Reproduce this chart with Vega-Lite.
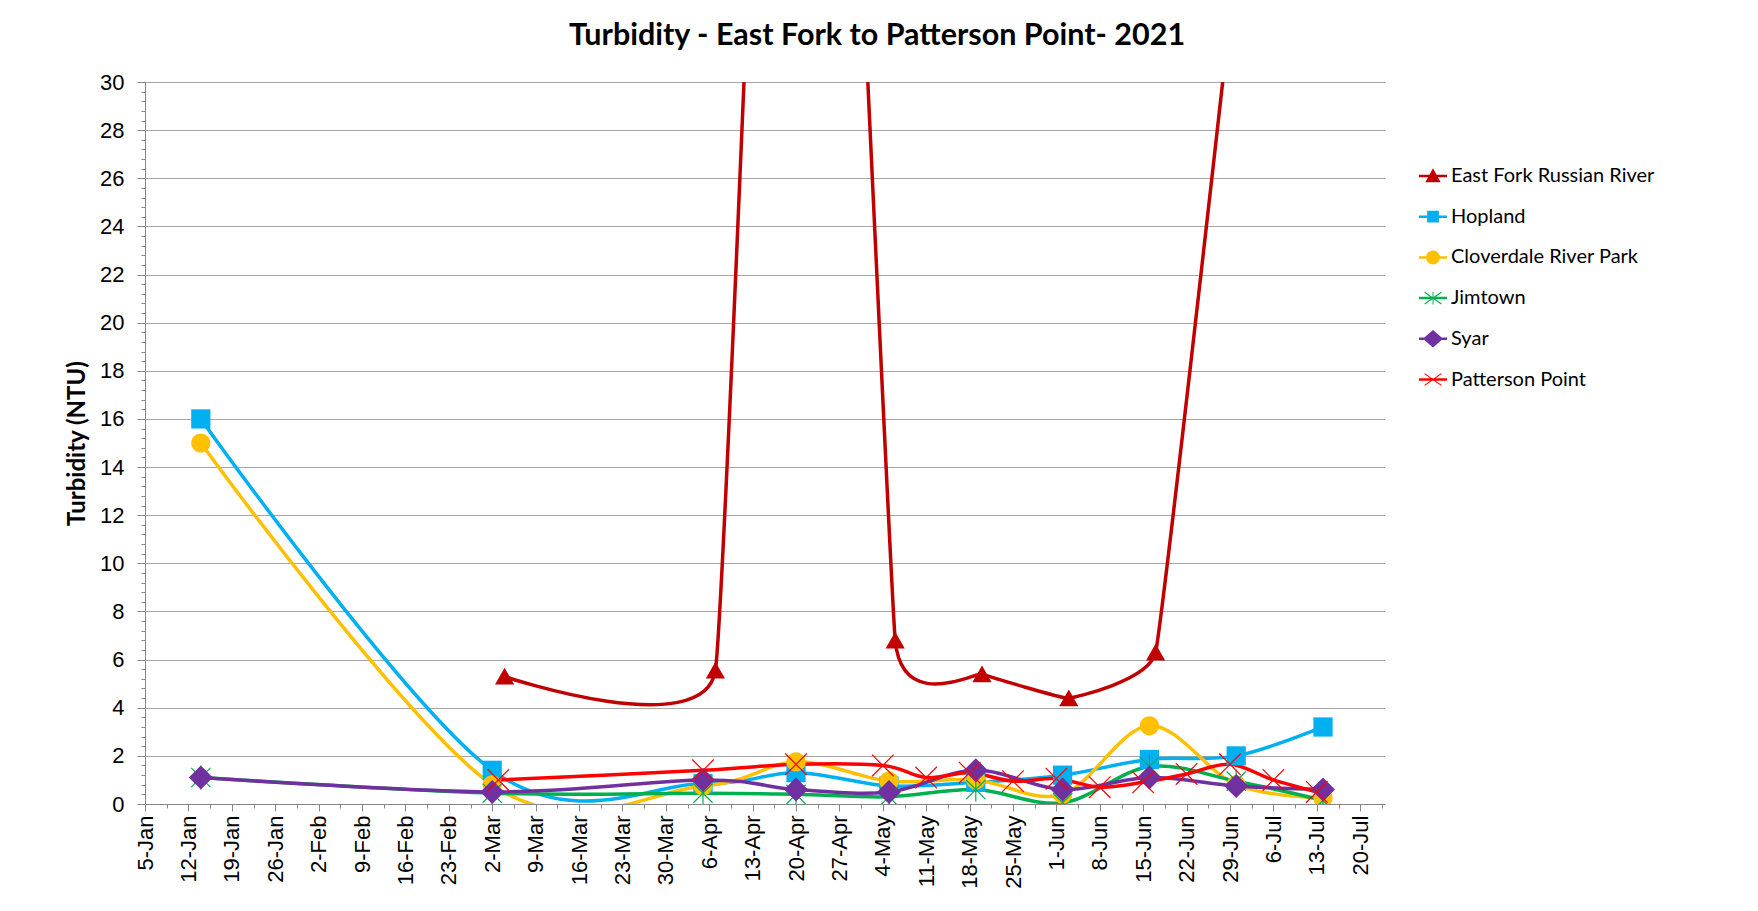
{
  "$schema": "https://vega.github.io/schema/vega-lite/v6.json",
  "width": 1240,
  "height": 722,
  "autosize": {"type": "none"},
  "padding": {"left": 145, "top": 82, "right": 373, "bottom": 107},
  "background": "white",
  "config": {"view": {"stroke": null}, "font": "Lato"},
  "title": {
    "text": "Turbidity - East Fork to Patterson Point- 2021",
    "font": "Lato",
    "fontSize": 30.5,
    "fontWeight": "bold",
    "color": "black",
    "anchor": "middle",
    "frame": "group",
    "dx": 112,
    "offset": 20
  },
  "data": {
    "values": [
      {"site": "East Fork Russian River", "date": "2021-03-04", "ntu": 5.3},
      {"site": "East Fork Russian River", "date": "2021-04-07", "ntu": 5.55},
      {"site": "East Fork Russian River", "date": "2021-04-21", "ntu": 85},
      {"site": "East Fork Russian River", "date": "2021-05-06", "ntu": 6.8},
      {"site": "East Fork Russian River", "date": "2021-05-20", "ntu": 5.4},
      {"site": "East Fork Russian River", "date": "2021-06-03", "ntu": 4.4},
      {"site": "East Fork Russian River", "date": "2021-06-17", "ntu": 6.3},
      {"site": "East Fork Russian River", "date": "2021-06-30", "ntu": 35},
      {"site": "Hopland", "date": "2021-01-14", "ntu": 16.0},
      {"site": "Hopland", "date": "2021-03-02", "ntu": 1.4},
      {"site": "Hopland", "date": "2021-04-05", "ntu": 0.85},
      {"site": "Hopland", "date": "2021-04-20", "ntu": 1.3},
      {"site": "Hopland", "date": "2021-05-05", "ntu": 0.75},
      {"site": "Hopland", "date": "2021-05-19", "ntu": 0.9},
      {"site": "Hopland", "date": "2021-06-02", "ntu": 1.2},
      {"site": "Hopland", "date": "2021-06-16", "ntu": 1.85},
      {"site": "Hopland", "date": "2021-06-30", "ntu": 2.0},
      {"site": "Hopland", "date": "2021-07-14", "ntu": 3.2},
      {"site": "Cloverdale River Park", "date": "2021-01-14", "ntu": 15.0},
      {"site": "Cloverdale River Park", "date": "2021-03-02", "ntu": 0.8},
      {"site": "Cloverdale River Park", "date": "2021-04-05", "ntu": 0.75},
      {"site": "Cloverdale River Park", "date": "2021-04-20", "ntu": 1.75},
      {"site": "Cloverdale River Park", "date": "2021-05-05", "ntu": 0.95},
      {"site": "Cloverdale River Park", "date": "2021-05-19", "ntu": 1.0},
      {"site": "Cloverdale River Park", "date": "2021-06-02", "ntu": 0.4},
      {"site": "Cloverdale River Park", "date": "2021-06-16", "ntu": 3.25},
      {"site": "Cloverdale River Park", "date": "2021-06-30", "ntu": 0.8},
      {"site": "Cloverdale River Park", "date": "2021-07-14", "ntu": 0.25},
      {"site": "Jimtown", "date": "2021-01-14", "ntu": 1.1},
      {"site": "Jimtown", "date": "2021-03-02", "ntu": 0.45},
      {"site": "Jimtown", "date": "2021-04-05", "ntu": 0.45},
      {"site": "Jimtown", "date": "2021-04-20", "ntu": 0.4},
      {"site": "Jimtown", "date": "2021-05-05", "ntu": 0.3},
      {"site": "Jimtown", "date": "2021-05-19", "ntu": 0.6},
      {"site": "Jimtown", "date": "2021-06-02", "ntu": 0.05},
      {"site": "Jimtown", "date": "2021-06-16", "ntu": 1.55},
      {"site": "Jimtown", "date": "2021-06-30", "ntu": 0.95},
      {"site": "Jimtown", "date": "2021-07-14", "ntu": 0.15},
      {"site": "Syar", "date": "2021-01-14", "ntu": 1.1},
      {"site": "Syar", "date": "2021-03-02", "ntu": 0.5},
      {"site": "Syar", "date": "2021-04-05", "ntu": 1.0},
      {"site": "Syar", "date": "2021-04-20", "ntu": 0.6},
      {"site": "Syar", "date": "2021-05-05", "ntu": 0.5},
      {"site": "Syar", "date": "2021-05-19", "ntu": 1.4},
      {"site": "Syar", "date": "2021-06-02", "ntu": 0.6},
      {"site": "Syar", "date": "2021-06-16", "ntu": 1.1},
      {"site": "Syar", "date": "2021-06-30", "ntu": 0.75},
      {"site": "Syar", "date": "2021-07-14", "ntu": 0.6},
      {"site": "Patterson Point", "date": "2021-03-03", "ntu": 1.0},
      {"site": "Patterson Point", "date": "2021-04-05", "ntu": 1.4},
      {"site": "Patterson Point", "date": "2021-04-20", "ntu": 1.65},
      {"site": "Patterson Point", "date": "2021-05-04", "ntu": 1.6},
      {"site": "Patterson Point", "date": "2021-05-11", "ntu": 1.1},
      {"site": "Patterson Point", "date": "2021-05-18", "ntu": 1.3},
      {"site": "Patterson Point", "date": "2021-05-25", "ntu": 0.95},
      {"site": "Patterson Point", "date": "2021-06-01", "ntu": 1.05},
      {"site": "Patterson Point", "date": "2021-06-08", "ntu": 0.7},
      {"site": "Patterson Point", "date": "2021-06-15", "ntu": 0.9},
      {"site": "Patterson Point", "date": "2021-06-22", "ntu": 1.25},
      {"site": "Patterson Point", "date": "2021-06-29", "ntu": 1.65},
      {"site": "Patterson Point", "date": "2021-07-06", "ntu": 1.0},
      {"site": "Patterson Point", "date": "2021-07-13", "ntu": 0.5}
    ]
  },
  "layer": [
    {
      "mark": {"type": "point", "filled": true, "opacity": 0, "strokeWidth": 0, "clip": true},
      "encoding": {
        "x": {
          "field": "date", "type": "temporal",
          "scale": {"type": "utc", "domain": [1609804800000, 1627084800000]},
          "axis": null
        },
        "y": {
          "field": "ntu", "type": "quantitative",
          "scale": {"domain": [0, 30], "nice": false, "zero": false},
          "axis": null
        },
        "color": {
          "field": "site", "type": "nominal",
          "scale": {
            "domain": ["East Fork Russian River", "Hopland", "Cloverdale River Park", "Jimtown", "Syar", "Patterson Point"],
            "range": ["#C00000", "#00B0F0", "#FFC000", "#00B050", "#7030A0", "#FF0000"]
          },
          "legend": {
            "orient": "none", "legendX": 1274, "legendY": 80, "title": null, "padding": 0, "rowPadding": 16.7,
            "symbolSize": 784, "symbolStrokeWidth": 0, "symbolOpacity": 1,
            "labelFont": "Lato", "labelFontSize": 20, "labelColor": "black", "labelOffset": 4, "labelLimit": 400
          }
        },
        "shape": {
          "field": "site", "type": "nominal",
          "scale": {
            "domain": ["East Fork Russian River", "Hopland", "Cloverdale River Park", "Jimtown", "Syar", "Patterson Point"],
            "range": [
              "M-1,-0.09V0.09H1V-0.09ZM0,-0.55L-0.55,0.45L0.55,0.45Z",
              "M-1,-0.09V0.09H1V-0.09ZM-0.42,-0.42V0.42H0.42V-0.42Z",
              "M-1,-0.09V0.09H1V-0.09ZM0.5,0A0.5,0.5 0 1,0 -0.5,0A0.5,0.5 0 1,0 0.5,0Z",
              "M-1,-0.09V0.09H1V-0.09ZM-0.035,-0.45V0.45H0.035V-0.45ZM-0.623,-0.387L0.577,0.453L0.623,0.387L-0.577,-0.453ZM-0.577,0.453L0.623,-0.387L0.577,-0.453L-0.623,0.387Z",
              "M-1,-0.09V0.09H1V-0.09ZM0,-0.62L-0.72,0L0,0.62L0.72,0Z",
              "M-1,-0.09V0.09H1V-0.09ZM-0.623,-0.387L0.577,0.453L0.623,0.387L-0.577,-0.453ZM-0.577,0.453L0.623,-0.387L0.577,-0.453L-0.623,0.387Z"
            ]
          },
          "legend": {
            "orient": "none", "legendX": 1274, "legendY": 80, "title": null, "padding": 0, "rowPadding": 16.7,
            "symbolSize": 784, "symbolStrokeWidth": 0, "symbolOpacity": 1,
            "labelFont": "Lato", "labelFontSize": 20, "labelColor": "black", "labelOffset": 4, "labelLimit": 400
          }
        }
      }
    },
    {
      "transform": [{"filter": "datum.site === 'East Fork Russian River'"}],
      "mark": {"type": "line", "interpolate": "cardinal", "tension": 0.77, "strokeWidth": 3.5, "strokeCap": "round", "strokeJoin": "round", "clip": true},
      "encoding": {
        "x": {
          "field": "date", "type": "temporal",
          "axis": {
            "orient": "bottom",
            "values": [1609804800000, 1610409600000, 1611014400000, 1611619200000, 1612224000000, 1612828800000, 1613433600000, 1614038400000, 1614643200000, 1615248000000, 1615852800000, 1616457600000, 1617062400000, 1617667200000, 1618272000000, 1618876800000, 1619481600000, 1620086400000, 1620691200000, 1621296000000, 1621900800000, 1622505600000, 1623110400000, 1623715200000, 1624320000000, 1624924800000, 1625529600000, 1626134400000, 1626739200000],
            "labelExpr": "utcFormat(datum.value, '%-d-%b')",
            "labelAngle": -90,
            "labelFont": "Liberation Sans",
            "labelFontSize": 22,
            "labelColor": "black",
            "labelPadding": 4,
            "labelOverlap": false,
            "labelFlush": false,
            "tickSize": 7,
            "tickColor": "#868686",
            "domainColor": "#868686",
            "grid": false,
            "title": null
          }
        },
        "y": {
          "field": "ntu", "type": "quantitative",
          "axis": {
            "orient": "left",
            "values": [0, 2, 4, 6, 8, 10, 12, 14, 16, 18, 20, 22, 24, 26, 28, 30],
            "grid": true,
            "gridColor": "#A6A6A6",
            "gridWidth": 1,
            "tickSize": 8,
            "tickColor": "#868686",
            "domainColor": "#868686",
            "labelFont": "Liberation Sans",
            "labelFontSize": 22,
            "labelColor": "black",
            "labelPadding": 13,
            "title": "Turbidity (NTU)",
            "titleFont": "Lato",
            "titleFontSize": 24,
            "titleFontWeight": "bold",
            "titleColor": "black",
            "titlePadding": 10
          }
        },
        "color": {"field": "site", "type": "nominal", "legend": null}
      }
    },
    {
      "transform": [{"filter": "datum.site !== 'East Fork Russian River'"}],
      "mark": {"type": "line", "interpolate": "cardinal", "tension": 0, "strokeWidth": 3.5, "strokeCap": "round", "strokeJoin": "round", "clip": true},
      "encoding": {
        "x": {
          "field": "date", "type": "temporal",
          "axis": {
            "orient": "bottom",
            "values": [1610107200000, 1610712000000, 1611316800000, 1611921600000, 1612526400000, 1613131200000, 1613736000000, 1614340800000, 1614945600000, 1615550400000, 1616155200000, 1616760000000, 1617364800000, 1617969600000, 1618574400000, 1619179200000, 1619784000000, 1620388800000, 1620993600000, 1621598400000, 1622203200000, 1622808000000, 1623412800000, 1624017600000, 1624622400000, 1625227200000, 1625832000000, 1626436800000, 1627041600000],
            "labels": false, "domain": false, "grid": false, "tickSize": 4, "tickColor": "#868686", "title": null
          }
        },
        "y": {
          "field": "ntu", "type": "quantitative",
          "axis": {
            "orient": "left",
            "values": [0.4, 0.8, 1.2, 1.6, 2.4, 2.8, 3.2, 3.6, 4.4, 4.8, 5.2, 5.6, 6.4, 6.8, 7.2, 7.6, 8.4, 8.8, 9.2, 9.6, 10.4, 10.8, 11.2, 11.6, 12.4, 12.8, 13.2, 13.6, 14.4, 14.8, 15.2, 15.6, 16.4, 16.8, 17.2, 17.6, 18.4, 18.8, 19.2, 19.6, 20.4, 20.8, 21.2, 21.6, 22.4, 22.8, 23.2, 23.6, 24.4, 24.8, 25.2, 25.6, 26.4, 26.8, 27.2, 27.6, 28.4, 28.8, 29.2, 29.6],
            "labels": false, "domain": false, "grid": false, "tickSize": 4, "tickColor": "#868686", "title": null
          }
        },
        "color": {"field": "site", "type": "nominal", "legend": null}
      }
    },
    {
      "transform": [{"filter": "datum.site === 'East Fork Russian River'"}],
      "mark": {"type": "point", "shape": "M0,-0.72L0.8,0.68L-0.8,0.68Z", "filled": true, "size": 576, "opacity": 1, "strokeWidth": 0, "clip": true},
      "encoding": {
        "x": {"field": "date", "type": "temporal", "axis": null},
        "y": {"field": "ntu", "type": "quantitative", "axis": null},
        "color": {"field": "site", "type": "nominal", "legend": null}
      }
    },
    {
      "transform": [{"filter": "datum.site === 'Hopland'"}],
      "mark": {"type": "point", "shape": "M-0.8,-0.8H0.8V0.8H-0.8Z", "filled": true, "size": 576, "opacity": 1, "strokeWidth": 0, "clip": true},
      "encoding": {
        "x": {"field": "date", "type": "temporal", "axis": null},
        "y": {"field": "ntu", "type": "quantitative", "axis": null},
        "color": {"field": "site", "type": "nominal", "legend": null}
      }
    },
    {
      "transform": [{"filter": "datum.site === 'Cloverdale River Park'"}],
      "mark": {"type": "point", "shape": "M0.8,0A0.8,0.8 0 1,1 -0.8,0A0.8,0.8 0 1,1 0.8,0Z", "filled": true, "size": 576, "opacity": 1, "strokeWidth": 0, "clip": true},
      "encoding": {
        "x": {"field": "date", "type": "temporal", "axis": null},
        "y": {"field": "ntu", "type": "quantitative", "axis": null},
        "color": {"field": "site", "type": "nominal", "legend": null}
      }
    },
    {
      "transform": [{"filter": "datum.site === 'Jimtown'"}],
      "mark": {"type": "point", "shape": "M0,-1V1M-0.8,-0.8L0.8,0.8M-0.8,0.8L0.8,-0.8", "filled": false, "size": 576, "opacity": 1, "strokeWidth": 1.2, "clip": true},
      "encoding": {
        "x": {"field": "date", "type": "temporal", "axis": null},
        "y": {"field": "ntu", "type": "quantitative", "axis": null},
        "color": {"field": "site", "type": "nominal", "legend": null}
      }
    },
    {
      "transform": [{"filter": "datum.site === 'Syar'"}],
      "mark": {"type": "point", "shape": "M0,-1L1,0L0,1L-1,0Z", "filled": true, "size": 576, "opacity": 1, "strokeWidth": 0, "clip": true},
      "encoding": {
        "x": {"field": "date", "type": "temporal", "axis": null},
        "y": {"field": "ntu", "type": "quantitative", "axis": null},
        "color": {"field": "site", "type": "nominal", "legend": null}
      }
    },
    {
      "transform": [{"filter": "datum.site === 'Patterson Point'"}],
      "mark": {"type": "point", "shape": "M-0.9,-0.9L0.9,0.9M-0.9,0.9L0.9,-0.9", "filled": false, "size": 576, "opacity": 1, "strokeWidth": 1.2, "clip": true},
      "encoding": {
        "x": {"field": "date", "type": "temporal", "axis": null},
        "y": {"field": "ntu", "type": "quantitative", "axis": null},
        "color": {"field": "site", "type": "nominal", "legend": null}
      }
    }
  ],
  "resolve": {"axis": {"x": "independent", "y": "independent"}}
}
